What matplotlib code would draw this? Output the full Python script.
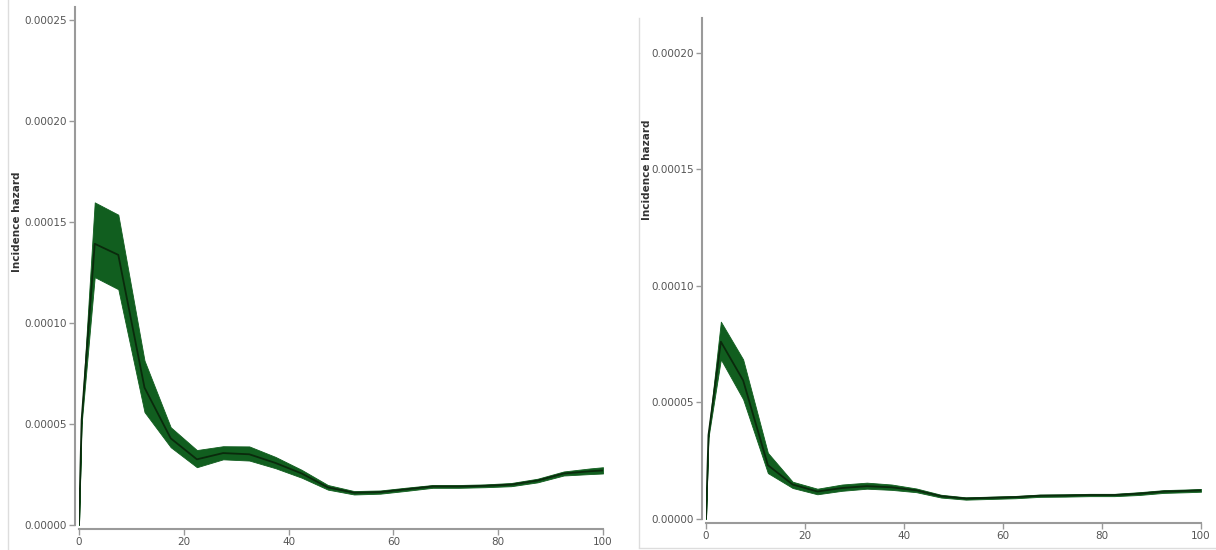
import numpy as np
import matplotlib
matplotlib.use("Agg")
import matplotlib.pyplot as plt
from matplotlib.lines import Line2D

# age points (same for both panels)
ages = [0, 0.5, 3, 7.5, 12.5, 17.5, 22.5, 27.5, 32.5, 37.5, 42.5, 47.5, 52.5,
        57.5, 62.5, 67.5, 72.5, 77.5, 82.5, 87.5, 92.5, 97.5, 100]

# left panel (values in units of 1e-5)
left_mean = [0, 5.2, 13.92, 13.37, 6.80, 4.29, 3.25, 3.56, 3.50, 3.07, 2.55, 1.86, 1.60,
             1.63, 1.77, 1.91, 1.91, 1.94, 2.00, 2.20, 2.55, 2.66, 2.70]
left_low = [0, 5.0, 12.27, 11.67, 5.59, 3.85, 2.86, 3.25, 3.19, 2.81, 2.34, 1.75, 1.51,
            1.55, 1.69, 1.84, 1.84, 1.87, 1.92, 2.11, 2.45, 2.52, 2.55]
left_high = [0, 5.4, 15.97, 15.36, 8.14, 4.84, 3.71, 3.90, 3.89, 3.37, 2.73, 1.98, 1.68,
             1.71, 1.85, 1.98, 1.98, 2.01, 2.08, 2.29, 2.65, 2.80, 2.86]

# right panel
right_mean = [0, 3.6, 7.61, 5.95, 2.31, 1.48, 1.18, 1.33, 1.41, 1.36, 1.23, 0.98, 0.88,
              0.91, 0.94, 1.00, 1.01, 1.03, 1.03, 1.09, 1.18, 1.21, 1.23]
right_low = [0, 3.5, 6.85, 5.14, 1.97, 1.33, 1.06, 1.21, 1.30, 1.25, 1.15, 0.92, 0.83,
             0.86, 0.89, 0.95, 0.96, 0.98, 0.98, 1.03, 1.12, 1.15, 1.17]
right_high = [0, 3.7, 8.47, 6.85, 2.84, 1.60, 1.30, 1.48, 1.56, 1.48, 1.31, 1.04, 0.93,
              0.96, 0.99, 1.05, 1.06, 1.08, 1.08, 1.15, 1.24, 1.27, 1.29]

y_ticks_left = [0, 0.00005, 0.0001, 0.00015, 0.0002, 0.00025]
y_ticks_right = [0, 0.00005, 0.0001, 0.00015, 0.0002]
x_ticks = [0, 20, 40, 60, 80, 100]

W, H = 1216, 550
fig = plt.figure(figsize=(W / 100, H / 100), dpi=100)
fig.patch.set_facecolor("white")

fill_col = "#115e1f"
line_col = "#0a2a0c"
axis_col = "#9a9a9a"
text_col = "#555555"


def panel(px_left, px_right, px_bottom, px_top, ytop, mean, low, high, yticks):
    ax = fig.add_axes([px_left / W, 1 - px_bottom / H,
                       (px_right - px_left) / W, (px_bottom - px_top) / H])
    x = np.array(ages)
    ax.fill_between(x, np.array(low) * 1e-5, np.array(high) * 1e-5,
                    color=fill_col, linewidth=0.6, edgecolor=fill_col)
    ax.plot(x, np.array(mean) * 1e-5, color=line_col, lw=1.3)
    ax.set_xlim(0, 100)
    ax.set_ylim(0, ytop)
    ax.set_xticks(x_ticks)
    ax.set_xticklabels([str(v) for v in x_ticks])
    ax.set_yticks(yticks)
    ax.set_yticklabels(["%.5f" % v for v in yticks])
    for s in ["top", "right"]:
        ax.spines[s].set_visible(False)
    for s in ["left", "bottom"]:
        ax.spines[s].set_position(("outward", 3))
        ax.spines[s].set_color(axis_col)
        ax.spines[s].set_linewidth(1.5)
    ax.tick_params(axis="both", colors=axis_col, labelcolor=text_col,
                   labelsize=7.5, length=4, width=1, pad=1.5)
    return ax


panel(79, 603, 525, 7, 0.0002564, left_mean, left_low, left_high, y_ticks_left)
panel(706, 1201, 519, 18, 0.000215, right_mean, right_low, right_high, y_ticks_right)

fig.text(17 / W, 1 - 222 / H, "Incidence hazard", rotation=90, fontsize=7.5,
         fontweight="bold", color="#333333", ha="center", va="center")
fig.text(647 / W, 1 - 170 / H, "Incidence hazard", rotation=90, fontsize=7.5,
         fontweight="bold", color="#333333", ha="center", va="center")

# panel borders
border = "#dddddd"
fig.add_artist(Line2D([7.5 / W, 7.5 / W], [0, 1], color=border, lw=1))
fig.add_artist(Line2D([639 / W, 639 / W], [1 - 18 / H, 1 - 547 / H], color=border, lw=1))
fig.add_artist(Line2D([639 / W, 1], [1 - 547.5 / H, 1 - 547.5 / H], color=border, lw=1))

fig.savefig("out.png", dpi=100)
